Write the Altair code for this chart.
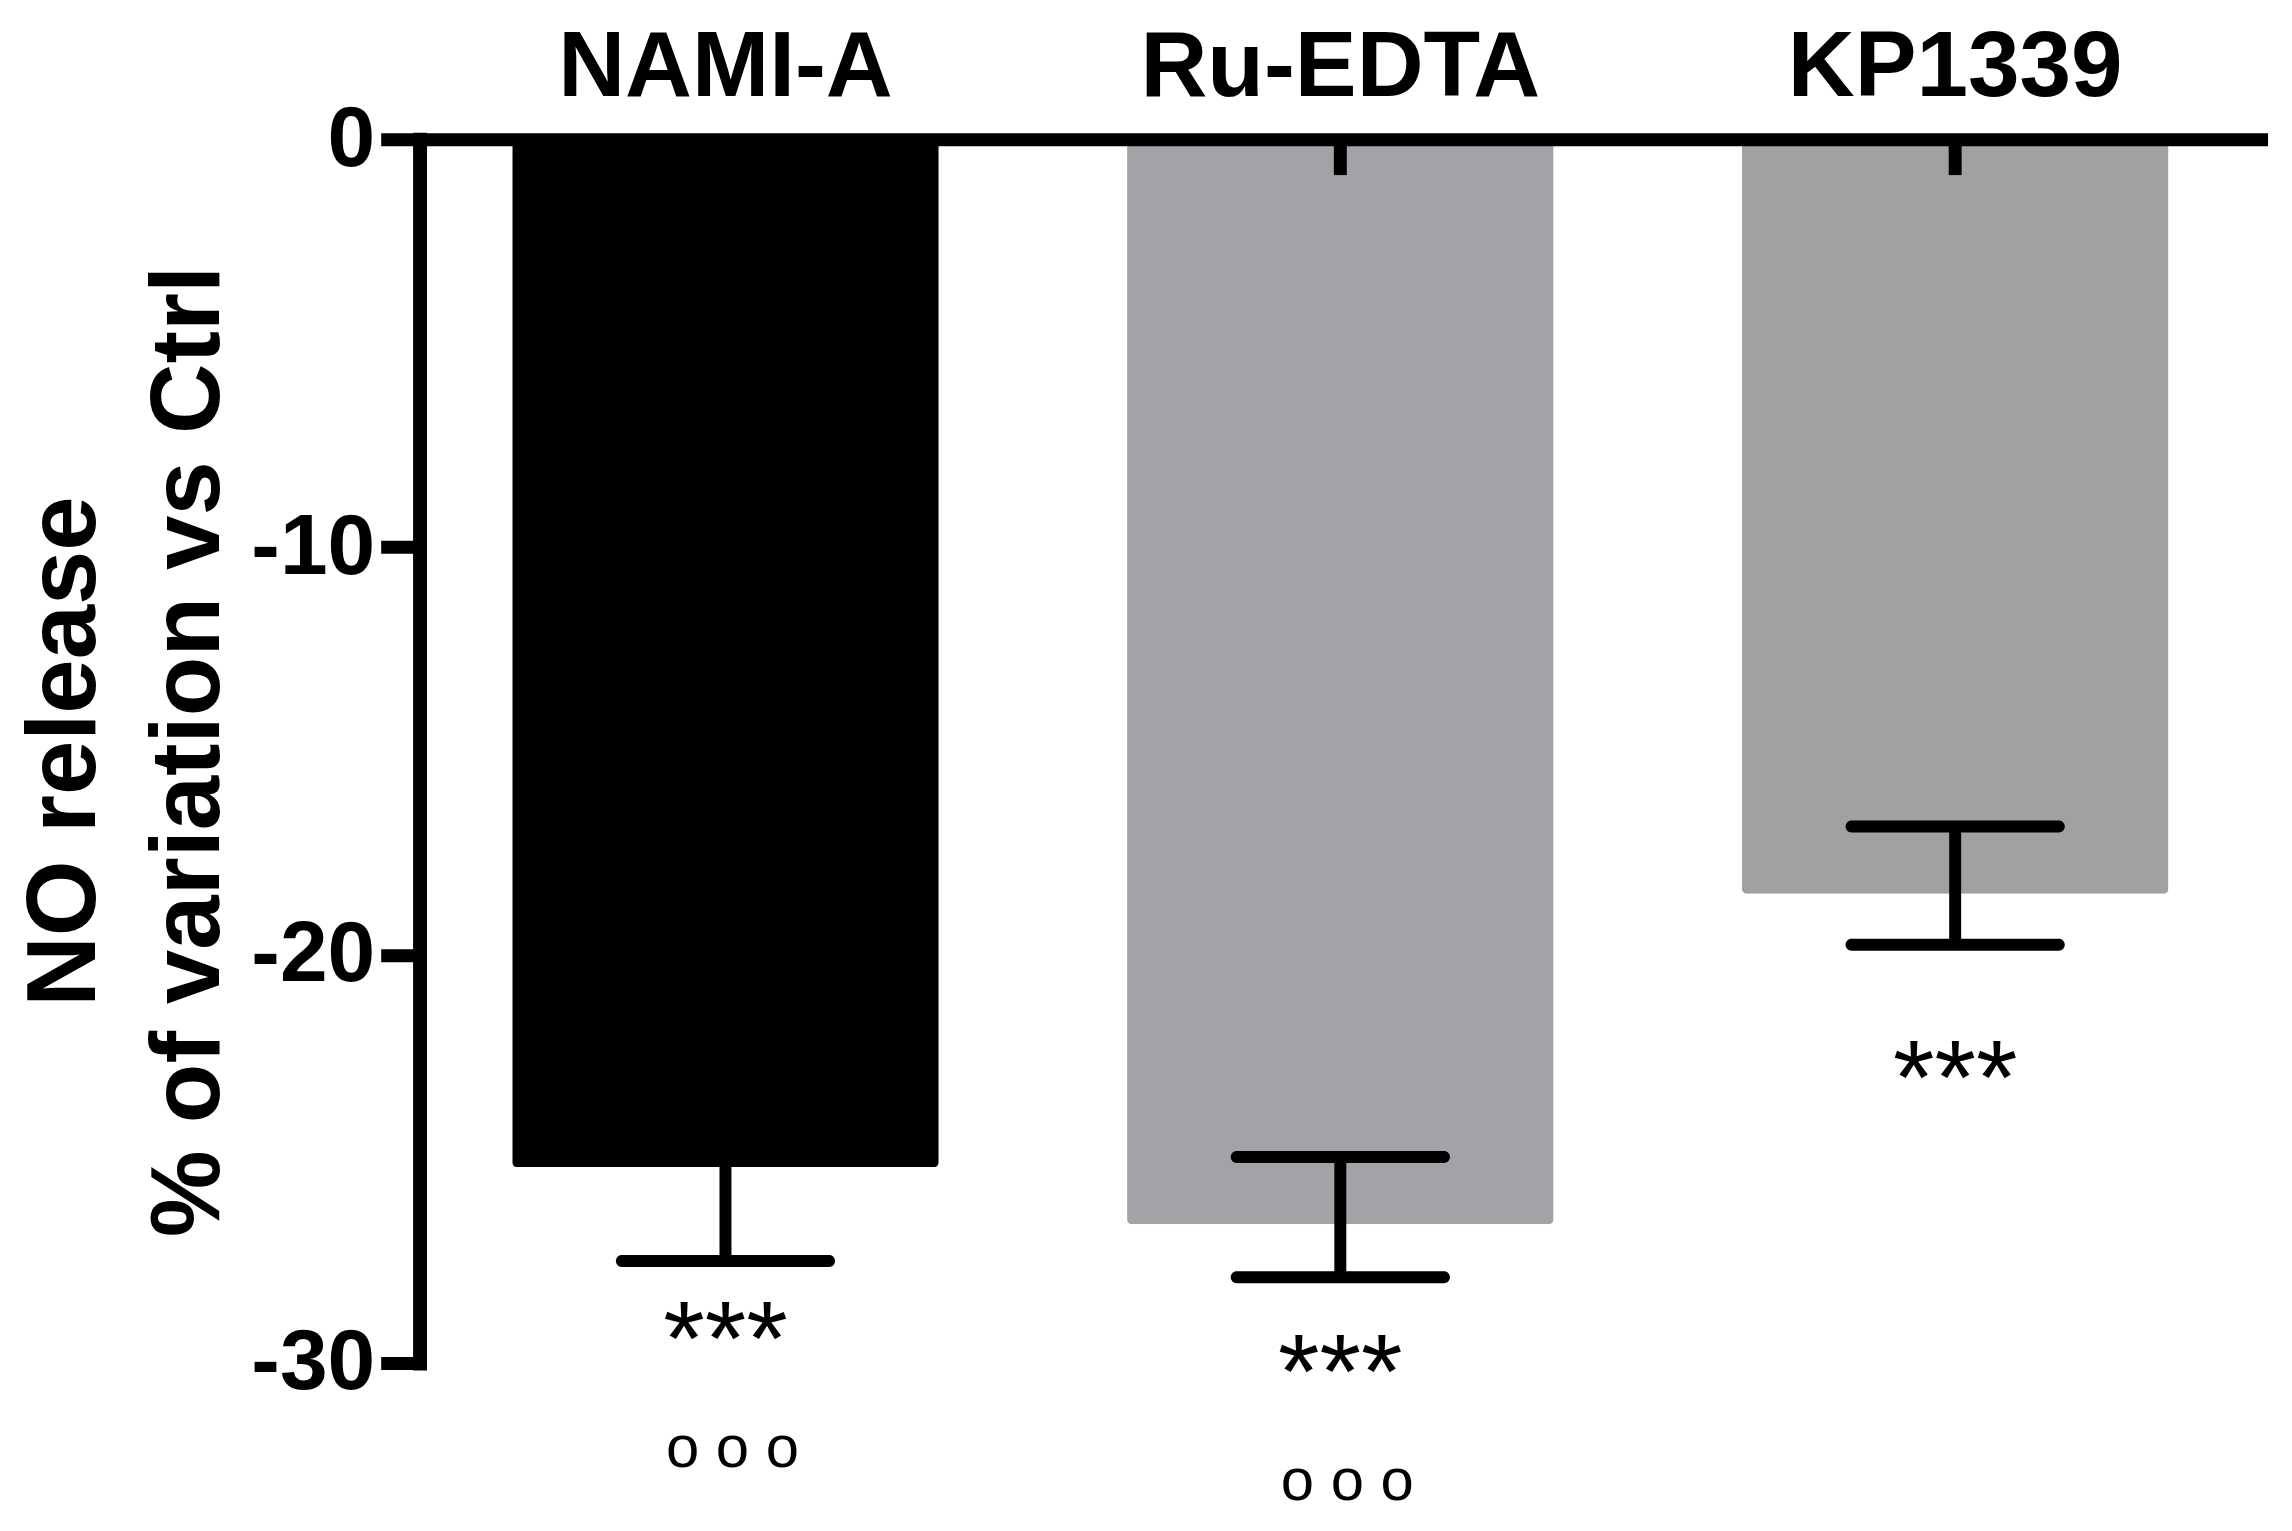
import altair as alt
import pandas as pd

# ---- data ----
categories = ["NAMI-A", "Ru-EDTA", "KP1339"]
values = [-25.2, -26.6, -18.5]          # bar heights (% variation vs Ctrl)
err_low = [-27.5, -27.9, -19.75]        # lower end of error bar
err_high = [-22.8, -24.95, -16.85]      # upper end of error bar
star_labels = ["***", "***", "***"]
star_y = [-30.3, -31.1, -23.9]
circ_labels = ["o o o", "o o o"]
circ_categories = ["NAMI-A", "Ru-EDTA"]
circ_y = [-32.55, -33.35]
y_ticks = [0, -10, -20, -30]

bar_colors = ["#000000", "#a2a3a6", "#a1a1a1"]
FONT = "Liberation Sans, Arial, sans-serif"

df = pd.DataFrame({
    "category": categories,
    "value": values,
    "err_low": err_low,
    "err_high": err_high,
    "star": star_labels,
    "star_y": star_y,
})
df_circ = pd.DataFrame({"category": circ_categories, "circ": circ_labels, "circ_y": circ_y})

x_scale = alt.Scale(domain=categories, paddingInner=0.3063, paddingOuter=0.1507)
y_scale = alt.Scale(domain=[-30, 0], nice=False, zero=False)

x_axis = alt.Axis(
    orient="top", title=None, ticks=False, tickSize=0, labelAngle=0, labelLimit=0,
    labelFont=FONT, labelFontSize=93, labelFontWeight="bold", labelColor="black",
    labelBaseline="alphabetic", labelPadding=44,
    domainColor="black", domainWidth=13, domainCap="square", zindex=1,
)
y_axis = alt.Axis(
    values=y_ticks, labelExpr="toString(datum.value)",
    title=["NO release", "% of variation vs Ctrl"],
    titleFont=FONT, titleFontSize=98, titleFontWeight="bold", titleColor="black",
    titleAngle=270, titleX=-326, titleY=614, titleAlign="center",
    titleBaseline="alphabetic", titleLineHeight=124, titleLimit=0,
    labelFont=FONT, labelFontSize=86, labelFontWeight="bold", labelColor="black",
    labelPadding=6, tickSize=39, tickWidth=13, tickColor="black",
    domainColor="black", domainWidth=14, domainCap="square", grid=False, zindex=1,
)


def X():
    return alt.X("category:N", sort=categories, scale=x_scale, axis=x_axis)


def Y(field):
    return alt.Y(f"{field}:Q", scale=y_scale, axis=y_axis)


base = alt.Chart(df)

bars = base.mark_bar(cornerRadius=5).encode(
    x=X(), y=Y("value"),
    color=alt.Color("category:N", scale=alt.Scale(domain=categories, range=bar_colors), legend=None),
)

top_ticks = base.mark_rule(color="black", strokeWidth=13).encode(
    x=X(), y=alt.value(0), y2=alt.value(36)
)

stems = base.mark_rule(color="black", strokeWidth=12).encode(
    x=X(), y=Y("err_low"), y2="err_high:Q"
)

caps_low = base.mark_tick(color="black", size=220, thickness=12, cornerRadius=6, opacity=1).encode(
    x=X(), y=Y("err_low")
)
caps_high = base.mark_tick(color="black", size=220, thickness=12, cornerRadius=6, opacity=1).encode(
    x=X(), y=Y("err_high")
)

stars = base.mark_text(font=FONT, fontSize=107, fontWeight="normal", color="black",
                       baseline="alphabetic", align="center").encode(
    x=X(), y=Y("star_y"), text="star:N"
)

circs = alt.Chart(df_circ).mark_text(font=FONT, fontSize=60, fontWeight="normal", color="black",
                                     baseline="alphabetic", align="center", dx=7).encode(
    x=X(), y=Y("circ_y"), text="circ:N"
)

chart = alt.layer(bars, top_ticks, stems, caps_low, caps_high, stars, circs).properties(
    width=1848, height=1228,
    autosize=alt.AutoSizeParams(type="none"),
    padding={"left": 413, "top": 129, "right": 23, "bottom": 166},
).configure_view(stroke=None)

chart.save("out.html", embed_options={"renderer": "svg", "actions": False})
